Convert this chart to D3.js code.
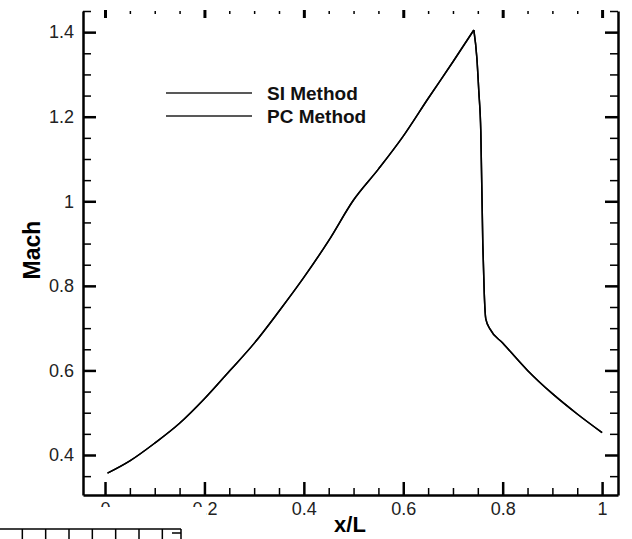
<!DOCTYPE html>
<html>
<head>
<meta charset="utf-8">
<script src="https://cdn.jsdelivr.net/npm/d3@7"></script>
<style>
  body { margin: 0; background: #fff; }
  svg { display: block; font-family: "Liberation Sans", Arial, sans-serif; }
  .tick text { fill: #222; font-size: 18px; }
</style>
</head>
<body>
<svg width="632" height="539"></svg>
<script>
// x/L stations and Mach number
var xL = [0.005, 0.05, 0.1, 0.15, 0.2, 0.25, 0.3, 0.35, 0.4, 0.45, 0.5, 0.55, 0.6, 0.65, 0.7,
          0.742, 0.748, 0.752, 0.756, 0.760, 0.763, 0.766, 0.775, 0.8, 0.85, 0.9, 0.95, 1.0];
var siMach = [0.357, 0.386, 0.428, 0.475, 0.533, 0.598, 0.664, 0.740, 0.820, 0.907, 1.003, 1.076, 1.154, 1.243, 1.330,
              1.405, 1.340, 1.260, 1.165, 0.900, 0.780, 0.722, 0.697, 0.665, 0.600, 0.545, 0.497, 0.453];
var pcMach = [0.357, 0.386, 0.428, 0.475, 0.533, 0.598, 0.664, 0.740, 0.820, 0.907, 1.003, 1.076, 1.154, 1.243, 1.330,
              1.405, 1.340, 1.260, 1.165, 0.900, 0.780, 0.722, 0.697, 0.665, 0.600, 0.545, 0.497, 0.453];
var seriesNames = ["SI Method", "PC Method"];
var xTicks = [0, 0.2, 0.4, 0.6, 0.8, 1];
var yTicks = [0.4, 0.6, 0.8, 1, 1.2, 1.4];

var svg = d3.select("svg");
// note: "top" is taken by window.top
var padL = 83, padR = 618, padT = 11, padB = 495;

var x = d3.scaleLinear().domain([-0.0443, 1.032]).range([padL, padR]);
var y = d3.scaleLinear().domain([0.3054, 1.45]).range([padB, padT]);

var xMinor = d3.range(0, 1.001, 0.05).filter(function(v){ return Math.abs(v*5 - Math.round(v*5)) > 1e-6; });
var yMinor = d3.range(0.35, 1.451, 0.05).filter(function(v){ return Math.abs(v*5 - Math.round(v*5)) > 1e-6; });

function fmt(d){ return d3.format("~g")(d); }

// bottom axis
var gb = svg.append("g").attr("transform", "translate(0," + padB + ")");
gb.call(d3.axisBottom(x).tickValues(xTicks).tickFormat(fmt).tickSize(-13).tickSizeOuter(0).tickPadding(7));
gb.select(".domain").attr("stroke-width", 2.5);
gb.selectAll(".tick line").attr("stroke-width", 2.5);
gb.selectAll(".tick text").attr("font-size", 18);
svg.append("g").attr("transform", "translate(0," + padB + ")")
  .call(d3.axisBottom(x).tickValues(xMinor).tickFormat("").tickSize(-7))
  .call(function(g){ g.select(".domain").remove(); g.selectAll("line").attr("stroke-width", 1.5); });

// left axis
var gl = svg.append("g").attr("transform", "translate(" + padL + ",0)");
gl.call(d3.axisLeft(y).tickValues(yTicks).tickFormat(fmt).tickSize(-13).tickSizeOuter(0).tickPadding(9));
gl.select(".domain").attr("stroke-width", 2.5);
gl.selectAll(".tick line").attr("stroke-width", 2.5);
gl.selectAll(".tick text").attr("font-size", 18);
svg.append("g").attr("transform", "translate(" + padL + ",0)")
  .call(d3.axisLeft(y).tickValues(yMinor).tickFormat("").tickSize(-8))
  .call(function(g){ g.select(".domain").remove(); g.selectAll("line").attr("stroke-width", 1.5); });

// right axis
var gr = svg.append("g").attr("transform", "translate(" + padR + ",0)");
gr.call(d3.axisRight(y).tickValues(yTicks).tickFormat("").tickSize(-13).tickSizeOuter(0));
gr.select(".domain").attr("stroke-width", 2.5);
gr.selectAll(".tick line").attr("stroke-width", 2.5);
svg.append("g").attr("transform", "translate(" + padR + ",0)")
  .call(d3.axisRight(y).tickValues(yMinor).tickFormat("").tickSize(-8))
  .call(function(g){ g.select(".domain").remove(); g.selectAll("line").attr("stroke-width", 1.5); });

// top ticks (frame line lost in the scan)
svg.append("g").attr("transform", "translate(0,10)")
  .call(d3.axisTop(x).tickValues(xTicks).tickFormat("").tickSize(-8))
  .call(function(g){ g.select(".domain").remove(); g.selectAll("line").attr("stroke-width", 3); });
svg.append("g").attr("transform", "translate(0,11)")
  .call(d3.axisTop(x).tickValues(xMinor).tickFormat("").tickSize(-3))
  .call(function(g){ g.select(".domain").remove(); g.selectAll("line").attr("stroke-width", 1.5); });

// curves: smooth on each side of the peak, sharp corner at the peak
var line = d3.line().curve(d3.curveMonotoneX)
  .x(function(d){ return x(d[0]); }).y(function(d){ return y(d[1]); });
[siMach, pcMach].forEach(function(m){
  var pts = xL.map(function(v, i){ return [v, m[i]]; });
  var k = d3.maxIndex(m);
  [pts.slice(0, k + 1), pts.slice(k)].forEach(function(seg){
    svg.append("path")
      .datum(seg)
      .attr("d", line)
      .attr("fill", "none")
      .attr("stroke", "#000")
      .attr("stroke-width", 1.5)
      .attr("stroke-linejoin", "miter");
  });
});

// legend
var lg = svg.append("g").selectAll("g").data(seriesNames).enter().append("g")
  .attr("transform", function(d, i){ return "translate(0," + (93 + i * 23) + ")"; });
lg.append("line").attr("x1", 166).attr("x2", 252).attr("stroke", "#222").attr("stroke-width", 1.5);
lg.append("text").attr("x", 267).attr("y", 6.5).attr("font-size", 19).attr("font-weight", "bold")
  .attr("fill", "#111").text(function(d){ return d; });

// axis titles
svg.append("text").attr("x", 350).attr("y", 532).attr("text-anchor", "middle")
  .attr("font-size", 22).attr("font-weight", "bold").text("x/L");
svg.append("text").attr("transform", "translate(40,250) rotate(-90)").attr("text-anchor", "middle")
  .attr("font-size", 23).attr("font-weight", "bold").text("Mach");

// piece of the next figure pasted over the corner
svg.append("rect").attr("x", 0).attr("y", 507).attr("width", 206).attr("height", 32).attr("fill", "#fff");
var s = d3.scaleLinear().domain([0, 7.8]).range([-1, 181]);
svg.append("line").attr("x1", 0).attr("x2", s(7.8)).attr("y1", 529).attr("y2", 529)
  .attr("stroke", "#000").attr("stroke-width", 1.5);
svg.append("g").selectAll("line").data(d3.range(1, 8)).enter().append("line")
  .attr("x1", s).attr("x2", s).attr("y1", 529).attr("y2", 539)
  .attr("stroke", "#000").attr("stroke-width", 1.5);
svg.append("path").attr("d", "M" + s(7.8) + ",529V539M" + (s(7.8) - 9) + ",533H" + s(7.8))
  .attr("fill", "none").attr("stroke", "#000").attr("stroke-width", 1.5);
</script>
</body>
</html>
